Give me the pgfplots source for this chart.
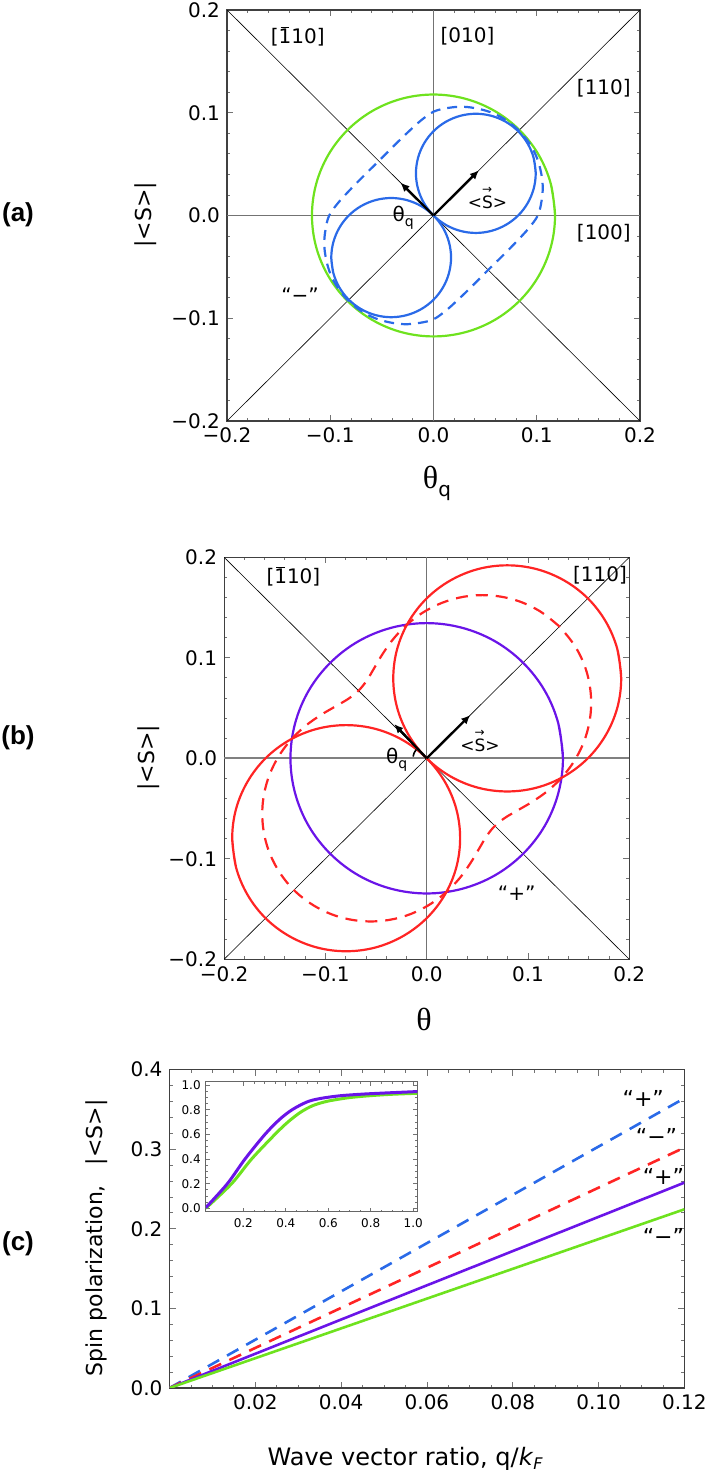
\documentclass[border=0pt]{standalone}
\usepackage{fontspec}
\setmainfont{DejaVu Sans}
\newfontfamily\lserif{Liberation Serif}
\newfontfamily\lsans{Liberation Sans}
\usepackage{pgfplots}
\pgfplotsset{compat=1.18}
\usetikzlibrary{arrows.meta}

\definecolor{cblue}{HTML}{2A6AE8}
\definecolor{cgreen}{HTML}{6EE21E}
\definecolor{cpurple}{HTML}{6A14E8}
\definecolor{cred}{HTML}{FF2424}

% 1 with a bar on top, S with an arrow on top
\newcommand{\barone}{\makebox[0pt][l]{\hspace{0.1em}\raisebox{0.8em}{\rule{0.44em}{0.45pt}}}1}
\newcommand{\vecS}{\makebox[0pt][l]{\raisebox{0.86em}{\fontsize{6}{6}\selectfont →}}S}

\pgfplotsset{
  frame/.style={
    scale only axis,
    axis line style={black!75, line width=0.6pt},
    tick align=inside,
    major tick length=3pt,
    minor tick length=1.6pt,
    tick style={black!55, line width=0.4pt},
    tick label style={font=\fontsize{10}{10}\selectfont},
    /pgf/number format/assume math mode=true,
  },
  polar/.style={
    frame,
    xmin=-0.2, xmax=0.2, ymin=-0.2, ymax=0.2,
    xtick={-0.2,-0.1,0,0.1,0.2},
    xticklabels={−0.2,−0.1,0.0,0.1,0.2},
    ytick={-0.2,-0.1,0,0.1,0.2},
    yticklabels={−0.2,−0.1,0.0,0.1,0.2},
    minor tick num=4,
  },
  guide/.style={black, line width=0.3pt},
  zeroline/.style={black!55, line width=0.5pt},
  curve/.style={line width=1.1pt, smooth, tension=0.6},
}

\begin{document}
\begin{tikzpicture}
\useasboundingbox (0pt,0pt) rectangle (353pt,737.5pt);

% ---------------- (a)
\begin{axis}[polar, at={(113.5pt,527pt)}, anchor=south west,
  width=206.5pt, height=205.5pt]
  \addplot[zeroline] coordinates {(-0.2,0) (0.2,0)};
  \addplot[zeroline] coordinates {(0,-0.2) (0,0.2)};
  \addplot[guide] coordinates {(-0.2,-0.2) (0.2,0.2)};
  \addplot[guide] coordinates {(-0.2,0.2) (0.2,-0.2)};
  % green circle
  \addplot[cgreen, curve] coordinates {
    (0.1177,0) (0.1137,0.0305) (0.1019,0.0589) (0.0832,0.0832) (0.0589,0.1019)
    (0.0305,0.1137) (0,0.1177) (-0.0305,0.1137) (-0.0589,0.1019) (-0.0832,0.0832)
    (-0.1019,0.0589) (-0.1137,0.0305) (-0.1177,0) (-0.1137,-0.0305) (-0.1019,-0.0589)
    (-0.0832,-0.0832) (-0.0589,-0.1019) (-0.0305,-0.1137) (0,-0.1177) (0.0305,-0.1137)
    (0.0589,-0.1019) (0.0832,-0.0832) (0.1019,-0.0589) (0.1137,-0.0305) (0.1177,0)
    (0.1137,0.0305)};
  % blue dashed
  \addplot[cblue, curve, dash pattern=on 5pt off 3.5pt] coordinates {
    (0.0827,0.0827) (0.0709,0.0924) (0.0575,0.0996) (0.0431,0.1039) (0.0283,0.1058)
    (0.0138,0.1046) (0,0.1010) (-0.0121,0.0925) (-0.0231,0.0826) (-0.0338,0.0723)
    (-0.0434,0.0627) (-0.0530,0.0530) (-0.0627,0.0434) (-0.0723,0.0338) (-0.0826,0.0231)
    (-0.0925,0.0121) (-0.1010,0) (-0.1046,-0.0138) (-0.1058,-0.0283) (-0.1039,-0.0431)
    (-0.0996,-0.0575) (-0.0924,-0.0709)
    (-0.0827,-0.0827) (-0.0709,-0.0924) (-0.0575,-0.0996) (-0.0431,-0.1039) (-0.0283,-0.1058)
    (-0.0138,-0.1046) (0,-0.1010) (0.0121,-0.0925) (0.0231,-0.0826) (0.0338,-0.0723)
    (0.0434,-0.0627) (0.0530,-0.0530) (0.0627,-0.0434) (0.0723,-0.0338) (0.0826,-0.0231)
    (0.0925,-0.0121) (0.1010,0) (0.1046,0.0138) (0.1058,0.0283) (0.1039,0.0431)
    (0.0996,0.0575) (0.0924,0.0709) (0.0827,0.0827)};
  % blue lobes
  \addplot[cblue, curve] coordinates {
    (0.099,0.041) (0.0970,0.0560) (0.0912,0.0700) (0.0820,0.0820) (0.0700,0.0912)
    (0.0560,0.0970) (0.041,0.099) (0.0260,0.0970) (0.0120,0.0912) (0,0.0820)
    (-0.0092,0.0700) (-0.0150,0.0560) (-0.017,0.041) (-0.0150,0.0260) (-0.0092,0.0120)
    (0,0) (0.0120,-0.0092) (0.0260,-0.0150) (0.041,-0.017) (0.0560,-0.0150)
    (0.0700,-0.0092) (0.0820,0) (0.0912,0.0120) (0.0970,0.0260) (0.099,0.041)
    (0.0970,0.0560)};
  \addplot[cblue, curve] coordinates {
    (-0.099,-0.041) (-0.0970,-0.0560) (-0.0912,-0.0700) (-0.0820,-0.0820) (-0.0700,-0.0912)
    (-0.0560,-0.0970) (-0.041,-0.099) (-0.0260,-0.0970) (-0.0120,-0.0912) (0,-0.0820)
    (0.0092,-0.0700) (0.0150,-0.0560) (0.017,-0.041) (0.0150,-0.0260) (0.0092,-0.0120)
    (0,0) (-0.0120,0.0092) (-0.0260,0.0150) (-0.041,0.017) (-0.0560,0.0150)
    (-0.0700,0.0092) (-0.0820,0) (-0.0912,-0.0120) (-0.0970,-0.0260) (-0.099,-0.041)
    (-0.0970,-0.0560)};
  \addplot[black, line width=1.2pt, -{Latex[length=4.5pt,width=4pt]}] coordinates {(0,0) (0.044,0.044)};
  \addplot[black, line width=1.2pt, -{Latex[length=4.5pt,width=4pt]}] coordinates {(0,0) (-0.032,0.032)};
  \node[font=\fontsize{8.5}{9}\selectfont] at (axis cs:0.0522,0.0172) {<\vecS>};
  \node[font=\fontsize{10}{10}\selectfont] at (axis cs:-0.0293,-0.0022) {θ\raisebox{-2.5pt}{\fontsize{7}{7}\selectfont q}};
  \node[font=\fontsize{10}{10}\selectfont] at (axis cs:-0.1315,0.174) {[\barone 10]};
  \node[font=\fontsize{10}{10}\selectfont] at (axis cs:0.0329,0.174) {[010]};
  \node[font=\fontsize{10}{10}\selectfont] at (axis cs:0.165,0.1238) {[110]};
  \node[font=\fontsize{10}{10}\selectfont] at (axis cs:0.165,-0.0173) {[100]};
  \node[font=\fontsize{10}{10}\selectfont] at (axis cs:-0.1293,-0.0774) {“−”};
\end{axis}

% ---------------- (b)
\begin{axis}[polar, at={(112.05pt,257.85pt)}, anchor=south west,
  width=202.6pt, height=201pt]
  \addplot[black!50, line width=0.8pt] coordinates {(-0.2,0) (0.2,0)};
  \addplot[zeroline] coordinates {(0,-0.2) (0,0.2)};
  \addplot[guide] coordinates {(-0.2,-0.2) (0.2,0.2)};
  \addplot[guide] coordinates {(-0.2,0.2) (0.2,-0.2)};
  % purple circle
  \addplot[cpurple, curve] coordinates {
    (0.1345,0) (0.1299,0.0348) (0.1165,0.0673) (0.0951,0.0951) (0.0673,0.1165)
    (0.0348,0.1299) (0,0.1345) (-0.0348,0.1299) (-0.0673,0.1165) (-0.0951,0.0951)
    (-0.1165,0.0673) (-0.1299,0.0348) (-0.1345,0) (-0.1299,-0.0348) (-0.1165,-0.0673)
    (-0.0951,-0.0951) (-0.0673,-0.1165) (-0.0348,-0.1299) (0,-0.1345) (0.0348,-0.1299)
    (0.0673,-0.1165) (0.0951,-0.0951) (0.1165,-0.0673) (0.1299,-0.0348) (0.1345,0)
    (0.1299,0.0348)};
  % red dashed
  \addplot[cred, curve, dash pattern=on 6pt off 4pt] coordinates {
    (0.1311,0.1311) (0.1121,0.1461) (0.0904,0.1565) (0.0670,0.1617) (0.0433,0.1617)
    (0.0206,0.1567) (0,0.1473) (-0.0177,0.1346) (-0.0321,0.1198) (-0.0432,0.1043)
    (-0.0518,0.0898) (-0.0593,0.0772) (-0.0673,0.0673) (-0.0772,0.0593) (-0.0898,0.0518)
    (-0.1043,0.0432) (-0.1198,0.0321) (-0.1346,0.0177) (-0.1473,0) (-0.1567,-0.0206)
    (-0.1617,-0.0433) (-0.1617,-0.0670) (-0.1565,-0.0904) (-0.1461,-0.1121)
    (-0.1311,-0.1311) (-0.1121,-0.1461) (-0.0904,-0.1565) (-0.0670,-0.1617) (-0.0433,-0.1617)
    (-0.0206,-0.1567) (0,-0.1473) (0.0177,-0.1346) (0.0321,-0.1198) (0.0432,-0.1043)
    (0.0518,-0.0898) (0.0593,-0.0772) (0.0673,-0.0673) (0.0772,-0.0593) (0.0898,-0.0518)
    (0.1043,-0.0432) (0.1198,-0.0321) (0.1346,-0.0177) (0.1473,0) (0.1567,0.0206)
    (0.1617,0.0433) (0.1617,0.0670) (0.1565,0.0904) (0.1461,0.1121) (0.1311,0.1311)};
  % red lobes
  \addplot[cred, curve] coordinates {
    (0.192,0.0795) (0.1882,0.1086) (0.1769,0.1358) (0.1591,0.1591) (0.1358,0.1769)
    (0.1086,0.1882) (0.0795,0.192) (0.0504,0.1882) (0.0233,0.1769) (0,0.1591)
    (-0.0179,0.1358) (-0.0292,0.1086) (-0.033,0.0795) (-0.0292,0.0504) (-0.0179,0.0233)
    (0,0) (0.0233,-0.0179) (0.0504,-0.0292) (0.0795,-0.033) (0.1086,-0.0292)
    (0.1358,-0.0179) (0.1591,0) (0.1769,0.0233) (0.1882,0.0504) (0.192,0.0795)
    (0.1882,0.1086)};
  \addplot[cred, curve] coordinates {
    (-0.192,-0.0795) (-0.1882,-0.1086) (-0.1769,-0.1358) (-0.1591,-0.1591) (-0.1358,-0.1769)
    (-0.1086,-0.1882) (-0.0795,-0.192) (-0.0504,-0.1882) (-0.0233,-0.1769) (0,-0.1591)
    (0.0179,-0.1358) (0.0292,-0.1086) (0.033,-0.0795) (0.0292,-0.0504) (0.0179,-0.0233)
    (0,0) (-0.0233,0.0179) (-0.0504,0.0292) (-0.0795,0.033) (-0.1086,0.0292)
    (-0.1358,0.0179) (-0.1591,0) (-0.1769,-0.0233) (-0.1882,-0.0504) (-0.192,-0.0795)
    (-0.1882,-0.1086)};
  \addplot[black, line width=1.2pt, -{Latex[length=4.5pt,width=4pt]}] coordinates {(0,0) (0.043,0.043)};
  \addplot[black, line width=1.2pt, -{Latex[length=4.5pt,width=4pt]}] coordinates {(0,0) (-0.032,0.034)};
  \addplot[black, line width=0.8pt, smooth] coordinates {(-0.0134,0.0017) (-0.0124,0.0053) (-0.0103,0.0087)};
  \node[font=\fontsize{8.5}{9}\selectfont] at (axis cs:0.0526,0.0172) {<\vecS>};
  \node[font=\fontsize{10}{10}\selectfont] at (axis cs:-0.0296,-0.0017) {θ\raisebox{-2.5pt}{\fontsize{7}{7}\selectfont q}};
  \node[font=\fontsize{10}{10}\selectfont] at (axis cs:-0.1316,0.1808) {[\barone 10]};
  \node[font=\fontsize{10}{10}\selectfont] at (axis cs:0.1711,0.1824) {[110]};
  \node[font=\fontsize{10}{10}\selectfont] at (axis cs:0.0888,-0.1343) {“+”};
\end{axis}

% ---------------- (c)
\begin{axis}[frame, at={(84.75pt,43.5pt)}, anchor=south west,
  width=257.45pt, height=159.2pt,
  xmin=0, xmax=0.12, ymin=0, ymax=0.4,
  xtick={0.02,0.04,0.06,0.08,0.1,0.12},
  xticklabels={0.02,0.04,0.06,0.08,0.10,0.12},
  ytick={0,0.1,0.2,0.3,0.4},
  yticklabels={0.0,0.1,0.2,0.3,0.4},
  minor xtick={0,0.005,...,0.12},
  minor ytick={0,0.02,...,0.4}]
  \addplot[cblue, line width=1.3pt, dash pattern=on 6.5pt off 4.5pt] coordinates {(0,0) (0.06,0.182) (0.12,0.364)};
  \addplot[cred, line width=1.3pt, dash pattern=on 6.5pt off 4.5pt] coordinates {(0,0) (0.06,0.151) (0.12,0.302)};
  \addplot[cpurple, line width=1.3pt] coordinates {(0,0) (0.06,0.129) (0.12,0.258)};
  \addplot[cgreen, line width=1.3pt] coordinates {(0,0) (0.06,0.1123) (0.12,0.2245)};
  \node[font=\fontsize{11}{11}\selectfont] at (axis cs:0.1104,0.364) {“+”};
  \node[font=\fontsize{11}{11}\selectfont] at (axis cs:0.1135,0.3157) {“−”};
  \node[font=\fontsize{11}{11}\selectfont] at (axis cs:0.1151,0.2655) {“+”};
  \node[font=\fontsize{11}{11}\selectfont] at (axis cs:0.1151,0.190) {“−”};
\end{axis}

% inset
\begin{axis}[frame, at={(102.85pt,131.65pt)}, anchor=south west,
  width=105.8pt, height=65pt,
  axis line style={black!60, line width=0.5pt},
  tick label style={font=\fontsize{6}{6}\selectfont},
  major tick length=2pt, minor tick length=1pt,
  xmin=0.023, xmax=1.019, ymin=-0.027, ymax=1.027,
  xtick={0.2,0.4,0.6,0.8,1.0},
  xticklabels={0.2,0.4,0.6,0.8,1.0},
  ytick={0,0.2,0.4,0.6,0.8,1.0},
  yticklabels={0.0,0.2,0.4,0.6,0.8,1.0},
  minor tick num=3,
  yticklabel style={xshift=1pt}]
  \addplot[cgreen, line width=1.5pt, smooth] coordinates {
    (0.023,0) (0.145,0.2) (0.239,0.4) (0.349,0.6) (0.41,0.70) (0.47,0.78)
    (0.53,0.835) (0.60,0.87) (0.70,0.898) (0.80,0.914) (0.90,0.925) (1.019,0.933)};
  \addplot[cpurple, line width=1.5pt, smooth] coordinates {
    (0.023,0.005) (0.125,0.2) (0.208,0.4) (0.302,0.6) (0.37,0.72) (0.43,0.80)
    (0.50,0.863) (0.56,0.89) (0.65,0.912) (0.75,0.925) (0.85,0.934) (1.019,0.947)};
\end{axis}

% panel labels and axis titles
\node[font=\lsans\bfseries\fontsize{13}{13}\selectfont] at (9pt,630pt) {(a)};
\node[font=\lsans\bfseries\fontsize{13}{13}\selectfont] at (9pt,368.5pt) {(b)};
\node[font=\lsans\bfseries\fontsize{13}{13}\selectfont] at (9pt,115.75pt) {(c)};
\node[rotate=90, font=\fontsize{11}{11}\selectfont] at (72.8pt,630pt) {|<S>|};
\node[rotate=90, font=\fontsize{11}{11}\selectfont] at (74.4pt,358.5pt) {|<S>|};
\node at (218.5pt,496pt) {\lserif\fontsize{16}{16}\selectfont θ\raisebox{-4pt}{\normalfont\fontsize{10}{10}\selectfont q}};
\node at (212pt,228pt) {\lserif\fontsize{16}{16}\selectfont θ};
\node[rotate=90, font=\fontsize{11}{11}\selectfont] at (48.5pt,118.5pt) {Spin polarization,\hspace{0.9em}|<S>|};
\node[font=\fontsize{12}{12}\selectfont] at (202.85pt,8pt) {Wave vector ratio, q/\textit{k}\textsubscript{\textit{F}}};
\end{tikzpicture}
\end{document}
